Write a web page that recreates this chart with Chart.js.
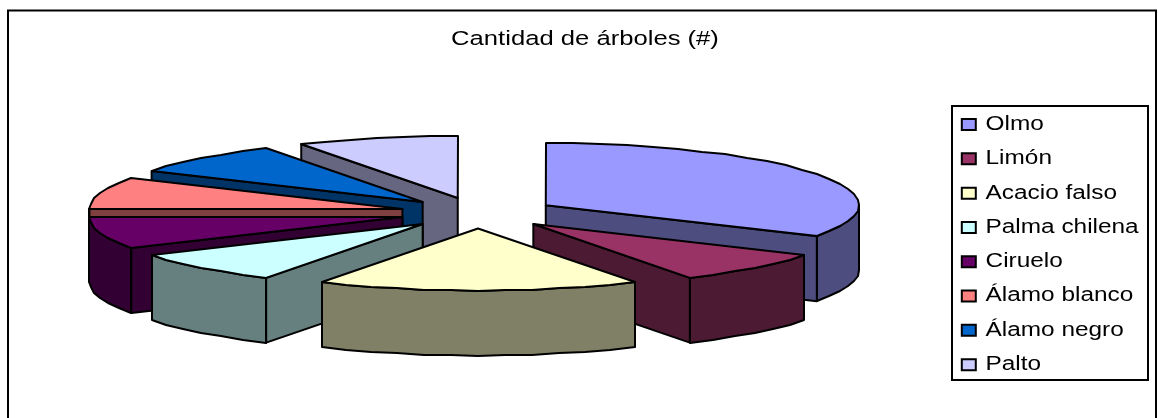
<!DOCTYPE html>
<html>
<head>
<meta charset="utf-8">
<title>Cantidad de árboles</title>
<script src="https://cdn.jsdelivr.net/npm/chart.js@4"></script>
<style>
  html, body { margin: 0; background: #fff; }
  canvas { display: block; }
</style>
</head>
<body>
<canvas id="pie3d" width="1158" height="418"></canvas>
<script>
const titleText = 'Cantidad de árboles (#)';
const categories = ['Olmo', 'Limón', 'Acacio falso', 'Palma chilena', 'Ciruelo', 'Álamo blanco', 'Álamo negro', 'Palto'];
const treeCounts = [4, 1, 2, 1, 1, 1, 1, 1];
const topColors = ['#9999FF', '#993366', '#FFFFCC', '#CCFFFF', '#660066', '#FF8080', '#0066CC', '#CCCCFF'];
const wallColors = ['#4D4D80', '#4D1A33', '#808066', '#668080', '#330033', '#804040', '#003366', '#666680'];
// back slices first so the front ones paint over them
const paintOrder = [7, 6, 5, 4, 3, 0, 1, 2];

// projection of the flat pie onto the tilted one
const pieCenterX = 478, pieCenterY = 213;
const pieRadiusX = 313, pieRadiusY = 62;
const pieDepth = 65;
const explodeRatio = 0.25;
const rimStep = Math.PI / 36;

const fontFamily = '"Liberation Sans", Arial, sans-serif';
// the original picture is wider than it is tall, text included
const textStretch = 1.25;

const pie3d = {
  id: 'pie3d',
  beforeInit(chart) {
    const ctx = chart.ctx;
    const fillText = ctx.fillText.bind(ctx);
    ctx.fillText = (text, x, y, maxWidth) => {
      ctx.save();
      ctx.translate(x, y);
      ctx.scale(textStretch, 1);
      if (maxWidth === undefined) fillText(text, 0, 0);
      else fillText(text, 0, 0, maxWidth);
      ctx.restore();
    };
  },
  afterLayout(chart) {
    chart.legend.left = 947;
    chart.legend.top = 100;
  },
  beforeDraw(chart) {
    const ctx = chart.ctx;
    ctx.save();
    ctx.strokeStyle = '#000';
    ctx.lineWidth = 2;
    // the frame runs off the bottom of the picture
    ctx.beginPath();
    ctx.moveTo(8, 418);
    ctx.lineTo(8, 10.5);
    ctx.lineTo(1156, 10.5);
    ctx.lineTo(1156, 418);
    ctx.stroke();
    ctx.strokeRect(952, 106, 196, 274);
    ctx.restore();
  },
  // replaces the flat arcs with the extruded ones
  beforeDatasetDraw(chart, args) {
    const ctx = chart.ctx;
    const arcs = args.meta.data;
    ctx.save();
    ctx.lineWidth = 2;
    ctx.lineJoin = 'round';
    ctx.strokeStyle = '#000';
    paintOrder.forEach(i => {
      const arc = arcs[i];
      const a0 = arc.startAngle, a1 = arc.endAngle, mid = (a0 + a1) / 2;
      const px = pieCenterX + Math.cos(mid) * explodeRatio * pieRadiusX;
      const py = pieCenterY + Math.sin(mid) * explodeRatio * pieRadiusY;
      const edge = a => [px + Math.cos(a) * pieRadiusX, py + Math.sin(a) * pieRadiusY];

      // rim as short straight pieces on whole pixels, the source is not a clean curve
      const rim = (from, to, dy) => {
        const n = Math.max(1, Math.round(Math.abs(to - from) / rimStep));
        for (let k = 0; k <= n; k++) {
          const [x, y] = edge(from + (to - from) * k / n);
          ctx.lineTo(Math.round(x), Math.round(y) + dy);
        }
      };

      const face = a => {
        const [ex, ey] = edge(a);
        ctx.beginPath();
        ctx.moveTo(px, py);
        ctx.lineTo(ex, ey);
        ctx.lineTo(ex, ey + pieDepth);
        ctx.lineTo(px, py + pieDepth);
        ctx.closePath();
        ctx.fillStyle = wallColors[i];
        ctx.fill();
        ctx.stroke();
      };
      if (Math.cos(a0) < -1e-6) face(a0);
      if (Math.cos(a1) > 1e-6) face(a1);

      // only the part of the rim that faces the viewer
      const r0 = Math.max(a0, 0), r1 = Math.min(a1, Math.PI);
      if (r1 > r0) {
        ctx.beginPath();
        rim(r0, r1, 0);
        rim(r1, r0, pieDepth);
        ctx.closePath();
        ctx.fillStyle = wallColors[i];
        ctx.fill();
        ctx.stroke();
      }

      ctx.beginPath();
      ctx.moveTo(px, py);
      rim(a0, a1, 0);
      ctx.closePath();
      ctx.fillStyle = topColors[i];
      ctx.fill();
      ctx.stroke();
    });
    ctx.restore();
    return false;
  }
};

new Chart(document.getElementById('pie3d'), {
  type: 'pie',
  data: {
    labels: categories,
    datasets: [{
      data: treeCounts,
      backgroundColor: topColors,
      borderColor: '#000',
      borderWidth: 2
    }]
  },
  options: {
    responsive: false,
    animation: false,
    layout: { padding: { left: 22, right: 10, top: 0, bottom: 0 } },
    plugins: {
      title: {
        display: true,
        text: titleText,
        color: '#000',
        font: { family: fontFamily, size: 20.5, weight: 'normal' },
        padding: { top: 27, bottom: 10 }
      },
      legend: {
        position: 'right',
        align: 'start',
        labels: {
          color: '#000',
          boxWidth: 14,
          boxHeight: 11,
          padding: 14.8,
          font: { family: fontFamily, size: 19.5 }
        }
      },
      tooltip: { enabled: false }
    }
  },
  plugins: [pie3d]
});
</script>
</body>
</html>
